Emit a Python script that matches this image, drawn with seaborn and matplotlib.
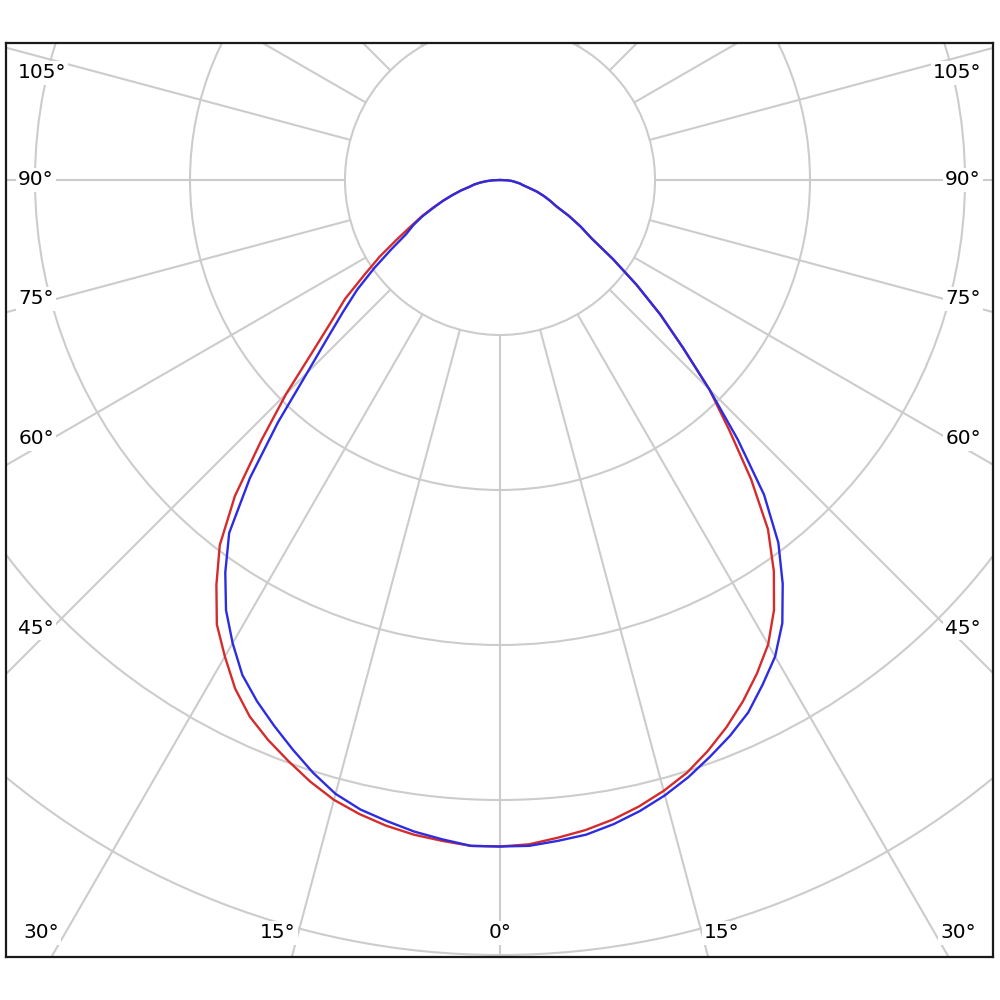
import numpy as np
import pandas as pd
import matplotlib
matplotlib.use('Agg')
import matplotlib.pyplot as plt
import seaborn as sns

sns.set_theme(style='white')
plt.rcParams['font.family'] = ['DejaVu Sans']

# ── Data (intensity, 100 per ring), angle from nadir in 2.5° steps ──────────
angles = [0, 2.5, 5, 7.5, 10, 12.5, 15, 17.5, 20, 22.5, 25, 27.5, 30, 32.5, 35, 37.5,
          40, 42.5, 45, 47.5, 50, 52.5, 55, 57.5, 60, 62.5, 65, 67.5, 70, 72.5, 75,
          77.5, 80, 82.5, 85, 87.5, 90]
red_left = [430, 430, 428, 426, 423, 419, 414, 407, 399, 391, 382, 370, 355, 340, 319, 297,
            266, 228, 195, 164, 142, 126, 107, 92, 77, 65, 56, 47, 39, 32, 26,
            20, 17, 13, 9, 5, 0]
blue_left = [430, 430, 427, 424, 420, 416, 410, 401, 391, 381, 371, 360, 345, 329, 309, 287,
             251, 212, 176, 151, 132, 116, 99, 83, 70, 63, 55, 46, 39, 32, 26,
             20, 17, 13, 9, 5, 0]
red_right = [430, 429, 426, 423, 419, 414, 408, 401, 392, 382, 371, 359, 346, 329, 308, 284,
             252, 219, 191, 160, 135, 111, 89, 70, 60, 50, 40, 35, 30, 25, 19,
             15, 13, 10, 8, 5, 0]
blue_right = [430, 430, 428, 426, 422, 417, 411, 404, 396, 388, 379, 367, 355, 339, 318, 295,
              265, 227, 191, 160, 135, 111, 89, 70, 60, 50, 40, 35, 30, 25, 19,
              15, 13, 10, 8, 5, 0]

rings = [100, 200, 300, 400, 500, 600]
spoke_angles = list(range(0, 360, 15))

side_labels = ['105°', '90°', '75°', '60°', '45°']
left_label_px = [(42, 73), (36, 180), (36, 299), (36, 439), (36, 628)]
right_label_px = [(957, 73), (963, 180), (963, 299), (963, 439), (963, 628)]
bottom_labels = ['30°', '15°', '0°', '15°', '30°']
bottom_label_px = [(41, 933), (278, 933), (500, 933), (722, 933), (958, 933)]

GRID = '#cccccc'
RED = '#d42c2c'
BLUE = '#2c2ce0'
PX = 1.55  # pixels per unit


def to_xy(px, py):
    return (px - 500) / PX, (180 - py) / PX


def curve(left, right):
    a = np.radians(angles)
    lx = -np.array(left) * np.sin(a)
    ly = -np.array(left) * np.cos(a)
    rx = np.array(right) * np.sin(a)
    ry = -np.array(right) * np.cos(a)
    x = np.concatenate([lx[::-1], rx[1:]])
    y = np.concatenate([ly[::-1], ry[1:]])
    return pd.DataFrame({'x': x, 'y': y})


fig = plt.figure(figsize=(10, 10), dpi=100)
ax = fig.add_axes([0.006, 0.043, 0.987, 0.914])
ax.set_xlim(to_xy(6, 0)[0], to_xy(993, 0)[0])
ax.set_ylim(to_xy(0, 957)[1], to_xy(0, 43)[1])
ax.set_aspect('equal')

# grid rings and spokes
for r in rings:
    ax.add_patch(plt.Circle((0, 0), r, fill=False, color=GRID, lw=1.5, zorder=1))
for a in spoke_angles:
    t = np.radians(a)
    ax.plot([-100 * np.sin(t), -800 * np.sin(t)], [-100 * np.cos(t), -800 * np.cos(t)],
            color=GRID, lw=1.5, zorder=1)

# curves
sns.lineplot(data=curve(red_left, red_right), x='x', y='y', sort=False, estimator=None,
             color=RED, lw=1.7, ax=ax, zorder=3)
sns.lineplot(data=curve(blue_left, blue_right), x='x', y='y', sort=False, estimator=None,
             color=BLUE, lw=1.7, ax=ax, zorder=4)

# angle labels
box = dict(facecolor='white', edgecolor='none', pad=1.5)
for lab, p in zip(side_labels + side_labels + bottom_labels,
                  left_label_px + right_label_px + bottom_label_px):
    ax.text(*to_xy(*p), lab, ha='center', va='center', fontsize=14.5, color='black',
            bbox=box, zorder=5)

ax.set_xticks([])
ax.set_yticks([])
ax.set_xlabel('')
ax.set_ylabel('')
for s in ax.spines.values():
    s.set_color('#1a1a1a')
    s.set_linewidth(1.6)

fig.savefig('out.png', dpi=100, facecolor='white')
